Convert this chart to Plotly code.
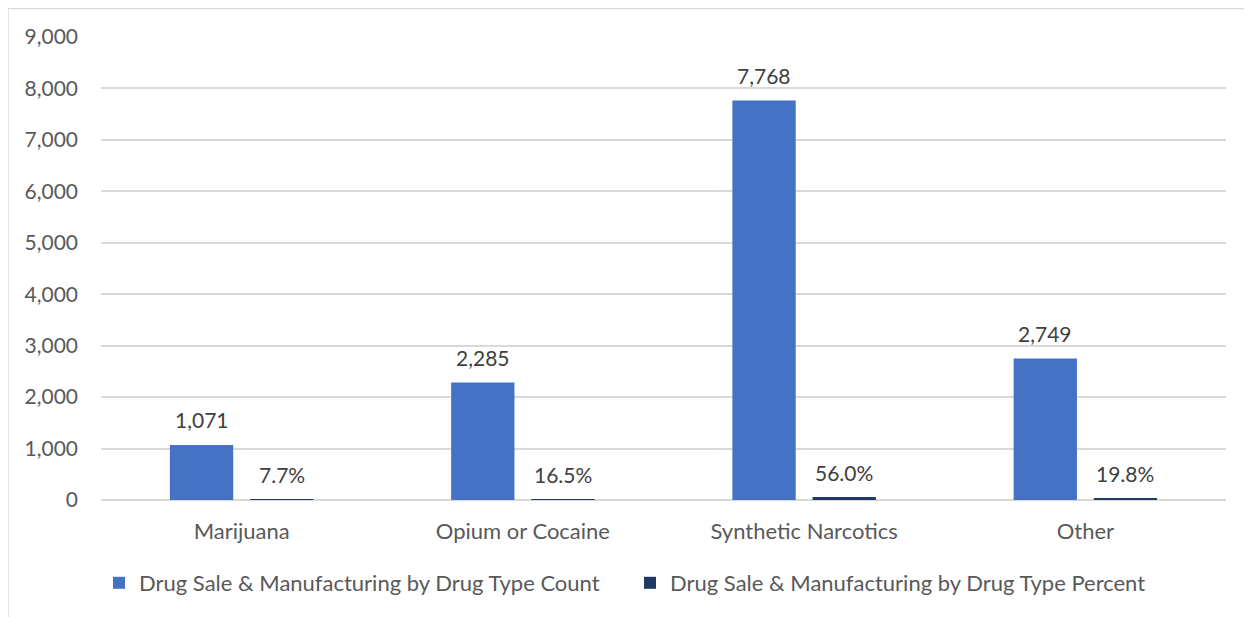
import plotly.graph_objects as go

categories = ["Marijuana", "Opium or Cocaine", "Synthetic Narcotics", "Other"]
count_values = [1071, 2285, 7768, 2749]
percent_values = [7.7, 16.5, 56.0, 19.8]
count_name = "Drug Sale & Manufacturing by Drug Type Count"
percent_name = "Drug Sale & Manufacturing by Drug Type Percent"
y_ticks = list(range(0, 9001, 1000))

# page has an 8px body margin; figure sized to the visible window area
OFF = 8
W, H = 1252 - OFF, 617 - OFF
ML, MR, MT, MB = 101 - OFF, 26, 37 - OFF, 117
PW, PH = W - ML - MR, H - MT - MB

FONT = "Lato"
FS_NUM = 21
FS_TXT = 22

fig = go.Figure()
fig.add_trace(go.Bar(x=categories, y=count_values, name=count_name,
                     marker=dict(color="#4472C4", line=dict(width=0))))
fig.add_trace(go.Bar(x=categories, y=percent_values, name=percent_name,
                     marker=dict(color="#203864", line=dict(width=0))))

annotations = []
for c, v in zip(categories, count_values):
    annotations.append(dict(x=c, y=v, xref="x", yref="y", text=f"{v:,}",
                            showarrow=False, xshift=-40, yshift=25,
                            yanchor="middle",
                            font=dict(family=FONT, size=FS_NUM, color="#404040")))
for c, v in zip(categories, percent_values):
    annotations.append(dict(x=c, y=v, xref="x", yref="y", text=f"{v:.1f}%",
                            showarrow=False, xshift=40, yshift=25,
                            yanchor="middle",
                            font=dict(family=FONT, size=FS_NUM, color="#404040")))


def px_x(p):
    return (p - OFF - ML) / PW


def px_y(p):
    return (H - MB - (p - OFF)) / PH


shapes = [
    dict(type="line", xref="paper", yref="paper", x0=px_x(8), x1=px_x(8),
         y0=px_y(8), y1=px_y(700), line=dict(color="#D9D9D9", width=1.5)),
    dict(type="line", xref="paper", yref="paper", x0=px_x(8), x1=px_x(1300),
         y0=px_y(8.5), y1=px_y(8.5), line=dict(color="#D9D9D9", width=1.5)),
]

fig.update_layout(
    width=W, height=H,
    margin=dict(l=ML, r=MR, t=MT, b=MB, pad=0),
    paper_bgcolor="white", plot_bgcolor="white",
    barmode="group", bargap=0.43, bargroupgap=0.21,
    font=dict(family=FONT, size=FS_TXT, color="#595959"),
    showlegend=True,
    legend=dict(orientation="h", x=px_x(99), xanchor="left", y=px_y(583), yanchor="middle",
                font=dict(family=FONT, size=FS_TXT, color="#595959"),
                entrywidth=486, entrywidthmode="pixels",
                traceorder="normal"),
    annotations=annotations,
    shapes=shapes,
)
fig.update_xaxes(showgrid=False, showline=False, zeroline=False, ticks="",
                 ticklabelstandoff=16,
                 tickfont=dict(family=FONT, size=FS_TXT, color="#595959"))
fig.update_yaxes(range=[0, 9000], tickvals=y_ticks, tickformat=",",
                 showgrid=True, gridcolor="#D9D9D9", gridwidth=1.5,
                 zeroline=True, zerolinecolor="#D9D9D9", zerolinewidth=1.5,
                 showline=False, ticks="", ticklabelstandoff=22,
                 tickfont=dict(family=FONT, size=FS_NUM, color="#595959"))

fig.write_html("out.html")
